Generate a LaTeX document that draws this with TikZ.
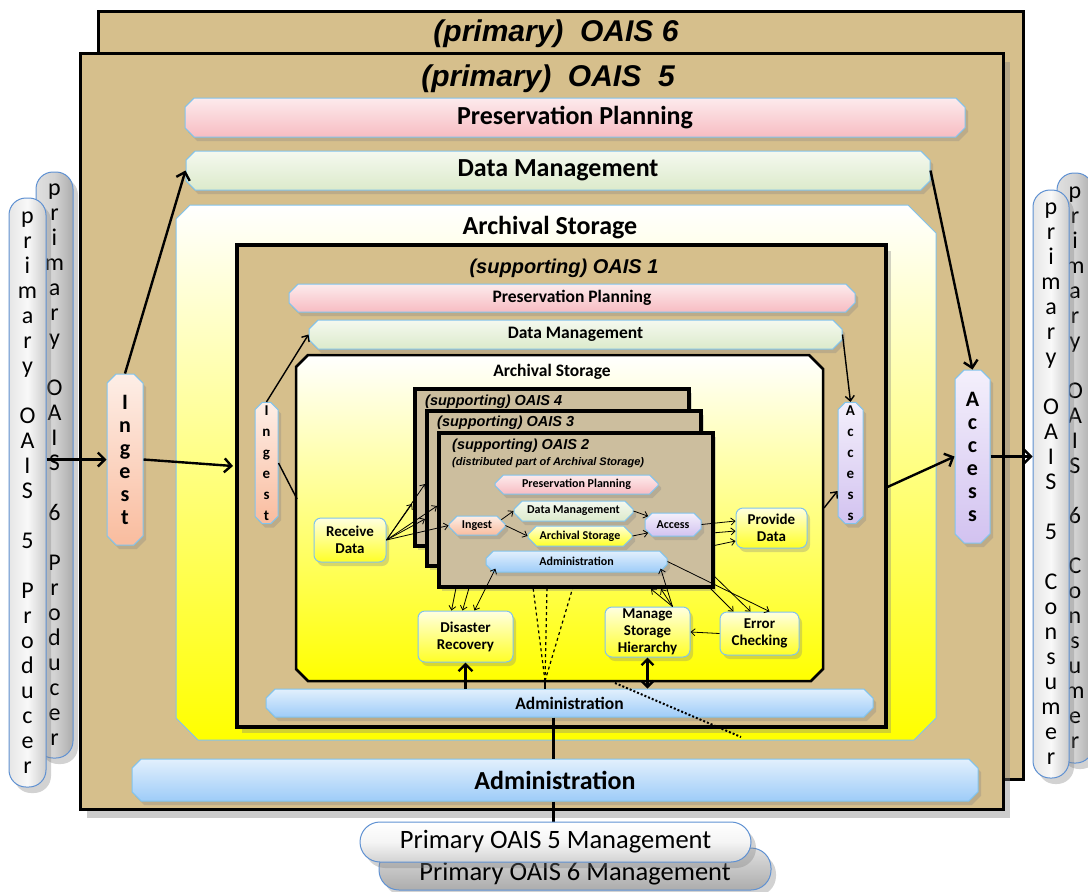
\documentclass[tikz,border=0pt]{standalone}
\usepackage{fontspec}
\setmainfont{Carlito}
\newfontfamily\arialfont{Liberation Sans}
\usetikzlibrary{shapes.misc,arrows.meta,shadows,calc}
\definecolor{tanbg}{RGB}{214,191,140}
\definecolor{tanstack}{RGB}{204,190,158}
\definecolor{ppink}{RGB}{247,188,194}
\definecolor{dmgreen}{RGB}{220,234,203}
\definecolor{admblue}{RGB}{158,204,248}
\definecolor{ingpeach}{RGB}{249,188,158}
\definecolor{acclav}{RGB}{210,194,240}
\definecolor{edgeblue}{RGB}{130,195,235}
\definecolor{yel}{RGB}{255,255,0}
\definecolor{pillblue}{RGB}{95,145,210}
\newcommand\fBig{\fontsize{26}{30}\selectfont\bfseries}
\newcommand\fMed{\fontsize{17.5}{20}\selectfont\bfseries}
\newcommand\fSml{\fontsize{12}{14}\selectfont\bfseries}
\newcommand\fBx{\fontsize{15}{17}\selectfont\bfseries}
\newcommand\fTitle[1]{\arialfont\bfseries\itshape\fontsize{#1}{#1}\selectfont}
\tikzset{
  oaisbox/.style={draw=black, line width=3pt, fill=tanbg, inner sep=0pt, anchor=north west},
  stackbox/.style={draw=black, line width=3.5pt, fill=tanstack, inner sep=0pt, anchor=north west},
  bar/.style={chamfered rectangle, chamfered rectangle xsep=6pt, draw=edgeblue, line width=1pt, inner sep=0pt, align=center},
  ppshade/.style={top color=ppink!30!white, bottom color=ppink},
  dmshade/.style={top color=dmgreen!30!white, bottom color=dmgreen},
  adshade/.style={top color=admblue!30!white, bottom color=admblue},
  ingshade/.style={top color=ingpeach!25!white, bottom color=ingpeach},
  accshade/.style={top color=acclav!25!white, bottom color=acclav},
  ysshade/.style={top color=yel!15!white, bottom color=yel!85!white},
  ybox/.style={rectangle, rounded corners=7pt, draw=edgeblue, line width=1pt, top color=yel!12!white, bottom color=yel!85!white, font=\fBx, align=center, inner sep=0pt, drop shadow={opacity=0.3, shadow xshift=3pt, shadow yshift=-4pt}},
  sh/.style={drop shadow={opacity=0.3, shadow xshift=3pt, shadow yshift=-4pt}},
  pill/.style={rectangle, rounded corners=17pt, draw=pillblue, line width=1pt, inner sep=0pt, align=center, font=\fontsize{24}{25}\selectfont, drop shadow={opacity=0.35, shadow xshift=5pt, shadow yshift=-6pt}},
  bigarr/.style={line width=2.4pt, -{Straight Barb[length=7pt,width=14pt]}},
  bigdbl/.style={line width=2.4pt, {Straight Barb[length=6pt,width=12pt]}-{Straight Barb[length=6pt,width=12pt]}},
  medarr/.style={line width=1.4pt, -{Straight Barb[length=5pt,width=9pt]}},
  thinarr/.style={line width=0.8pt, -{Straight Barb[length=4pt,width=7pt]}},
  thindbl/.style={line width=0.8pt, {Straight Barb[length=4pt,width=7pt]}-{Straight Barb[length=4pt,width=7pt]}}
}
\begin{document}
\begin{tikzpicture}[x=1pt,y=-1pt]
\useasboundingbox (0,0) rectangle (1088,892);
\fill[white] (0,0) rectangle (1088,892);

% primary OAIS 6 and 5
\node[oaisbox, minimum width=925pt, minimum height=768pt] (oais6) at (97,10) {};
\node[font=\fTitle{30}, inner sep=0pt] (t6) at (556,34) {(primary)\ \ OAIS 6};
\node[oaisbox, minimum width=923pt, minimum height=756pt, drop shadow={opacity=0.4, shadow xshift=6pt, shadow yshift=-8pt}] (oais5) at (79,52) {};
\node[font=\fTitle{30}, inner sep=0pt] (t5) at (548,79) {(primary)\ \ OAIS\ \ 5};

% primary bars
\node[bar, ppshade, sh, minimum width=780pt, minimum height=39pt, font=\fBig] (ppB) at (575,117.5) {Preservation Planning};
\node[bar, dmshade, sh, minimum width=744pt, minimum height=39pt, font=\fBig] (dmB) at (558,170.5) {Data Management};

% big archival storage
\path[draw=edgeblue, line width=1pt, top color=white, middle color=yel!22!white, bottom color=yel] (190,205) -- (908,205) -- (936,233) -- (936,718) -- (914,740) -- (198,740) -- (176,718) -- (176,219) -- cycle;
\node[inner sep=0pt, minimum width=760pt, minimum height=535pt] (asB) at (556,472.5) {};
\node[font=\fBig, inner sep=0pt] (asBt) at (550,228) {Archival Storage};

% supporting OAIS 1
\node[oaisbox, line width=3.5pt, minimum width=649pt, minimum height=482pt, drop shadow={opacity=0.35, shadow xshift=5pt, shadow yshift=-6pt}] (oais1) at (235,243) {};
\node[font=\fTitle{20}, inner sep=0pt] (t1) at (564,268) {(supporting) OAIS 1};
\node[bar, ppshade, sh, minimum width=566pt, minimum height=28pt, font=\fMed] (pp1) at (572,298) {Preservation Planning};
\node[bar, dmshade, sh, minimum width=533pt, minimum height=29pt, font=\fMed] (dm1) at (575.5,334.5) {Data Management};

% inner archival storage
\path[draw=black, line width=2.5pt, top color=white, middle color=yel!35!white, bottom color=yel] (308,355) -- (809,355) -- (823,369) -- (823,669) -- (811,681) -- (308,681) -- (296,669) -- (296,367) -- cycle;
\node[inner sep=0pt, minimum width=527pt, minimum height=326pt] (asI) at (559.5,518) {};
\node[font=\fMed, inner sep=0pt] (asIt) at (552,372) {Archival Storage};

% stacked supporting OAIS 4,3,2
\node[stackbox, minimum width=274pt, minimum height=157pt, sh] (o4) at (413,387) {};
\node[anchor=west, inner sep=0pt, font=\fTitle{14.5}] (t4) at (425,402) {(supporting) OAIS 4};
\node[stackbox, minimum width=274pt, minimum height=155pt, sh] (o3) at (425,409) {};
\node[anchor=west, inner sep=0pt, font=\fTitle{14.5}] (t3) at (437,423) {(supporting) OAIS 3};
\node[stackbox, minimum width=274pt, minimum height=154pt, sh] (o2) at (437,431) {};
\node[anchor=west, inner sep=0pt, font=\fTitle{14.5}] (t2) at (452,446) {(supporting) OAIS 2};
\node[anchor=west, inner sep=0pt, font=\fTitle{11}] (t2b) at (452,463) {(distributed part of Archival Storage)};

\node[bar, ppshade, sh, minimum width=163pt, minimum height=19pt, font=\fSml] (pp2) at (576.5,484.5) {Preservation Planning};
\node[bar, dmshade, sh, minimum width=119pt, minimum height=20pt, font=\fSml] (dm2) at (573.5,511) {Data Management};
\node[bar, ysshade, sh, minimum width=104pt, minimum height=20pt, font=\fSml] (as2) at (580,536) {Archival Storage};
\node[bar, ingshade, sh, minimum width=56pt, minimum height=19pt, font=\fSml] (ing2) at (477,525.5) {Ingest};
\node[bar, accshade, sh, minimum width=56pt, minimum height=23pt, font=\fSml] (acc2) at (673,524.5) {Access};
\node[bar, adshade, sh, minimum width=181pt, minimum height=21pt, font=\fSml] (admin2) at (576.5,561.5) {Administration};

% function boxes
\node[ybox, minimum width=72pt, minimum height=44pt] (rec) at (350,540) {Receive\\Data};
\node[ybox, minimum width=71pt, minimum height=40pt] (prov) at (771.5,528) {Provide\\Data};
\node[ybox, minimum width=95pt, minimum height=51pt] (dr) at (465.5,636.5) {Disaster\\Recovery};
\node[ybox, minimum width=85pt, minimum height=50pt] (msh) at (647.5,632) {Manage\\Storage\\Hierarchy};
\node[ybox, minimum width=79pt, minimum height=43pt] (ec) at (759.5,633.5) {Error\\Checking};

% supporting OAIS 1 ingest/access/admin
\node[bar, ingshade, sh, chamfered rectangle xsep=4pt, minimum width=23pt, minimum height=120pt, font=\fontsize{15}{21}\selectfont\bfseries] (ing1) at (266.5,463) {I\\n\\g\\e\\s\\t};
\node[bar, accshade, sh, chamfered rectangle xsep=4pt, minimum width=25pt, minimum height=120pt, font=\fontsize{15}{21}\selectfont\bfseries] (acc1) at (850.5,463) {A\\c\\c\\e\\s\\s};
\node[bar, adshade, sh, minimum width=607pt, minimum height=28pt, font=\fMed] (admin1) at (569.5,703) {Administration};

% primary ingest/access/admin
\node[bar, ingshade, sh, minimum width=36pt, minimum height=171pt, font=\fontsize{22}{23}\selectfont\bfseries] (ingB) at (125,459.5) {I\\n\\g\\e\\s\\t};
\node[bar, accshade, sh, minimum width=35pt, minimum height=173pt, font=\fontsize{22}{23}\selectfont\bfseries] (accB) at (972.5,456.5) {A\\c\\c\\e\\s\\s};
\node[bar, adshade, sh, minimum width=846pt, minimum height=42pt, font=\fBig] (adminP) at (555,780) {Administration};

% producers and consumers
\node[pill, left color=gray!25, right color=gray!65, middle color=gray!35, minimum width=37pt, minimum height=586pt] (prod6) at (54.5,465) {p\\r\\i\\m\\a\\r\\y\\[25pt]O\\A\\I\\S\\[25pt]6\\[25pt]P\\r\\o\\d\\u\\c\\e\\r};
\node[pill, left color=gray!20, right color=gray!40, middle color=gray!5, minimum width=37pt, minimum height=589pt] (prod5) at (27.5,492.5) {p\\r\\i\\m\\a\\r\\y\\[25pt]O\\A\\I\\S\\[25pt]5\\[25pt]P\\r\\o\\d\\u\\c\\e\\r};
\node[pill, left color=gray!25, right color=gray!65, middle color=gray!35, minimum width=36pt, minimum height=590pt] (cons6) at (1075,468) {p\\r\\i\\m\\a\\r\\y\\[25pt]O\\A\\I\\S\\[25pt]6\\[25pt]C\\o\\n\\s\\u\\m\\e\\r};
\node[pill, left color=gray!20, right color=gray!40, middle color=gray!5, minimum width=36pt, minimum height=588pt] (cons5) at (1051,484) {p\\r\\i\\m\\a\\r\\y\\[25pt]O\\A\\I\\S\\[25pt]5\\[25pt]C\\o\\n\\s\\u\\m\\e\\r};

% ---- connectors ----
\draw[bigarr] (ingB.west -| prod5.east) -- (ingB.west);
\coordinate (o1in) at (233,466);
\draw[bigarr] (ingB.east) -- (o1in);
\draw[bigarr] (ingB.north) -- (dmB.west);
\draw[bigarr] (dmB.east) -- (accB.north);
\draw[bigarr] (oais1.east |- 0,487) -- (accB.west);
\draw[bigarr] (accB.east) -- (accB.east -| cons5.west);

\draw[medarr] (ing1.north) -- (dm1.west);
\coordinate (asIl) at (297,499);
\draw[line width=1.4pt] (ing1.east) -- (asIl);
\draw[medarr] (dm1.east) -- (acc1.north);
\coordinate (asIr) at (824,508);
\draw[medarr] (asIr) -- (acc1.west |- 0,491);

% receive data fan
\coordinate (r1) at (412,504);
\coordinate (r2) at (425,484);
\coordinate (r3) at (425,519);
\coordinate (r4) at (437,506);
\foreach \c in {r1,r2,r3,r4} \draw[thinarr] (rec.east) -- (\c);
\draw[thinarr] (rec.east) -- (ing2.west);

% inside OAIS 2
\draw[thinarr] (ing2.north east) -- (dm2.west);
\draw[thinarr] (ing2.east) -- (as2.west);
\draw[thinarr] (dm2.east) -- (acc2.north west);
\draw[thinarr] (as2.east) -- (acc2.south west);

% to provide data
\coordinate (p2s) at (712,533);
\coordinate (p3s) at (712,546);
\draw[thinarr] (acc2.east) -- (prov.west |- 0,521);
\draw[thinarr] (p2s) -- (prov.west |- 0,531);
\draw[thinarr] (p3s) -- (prov.west |- 0,541);

% disaster recovery
\coordinate (d1) at (456,588);
\coordinate (d2) at (469,588);
\draw[thinarr] (d1) -- ([xshift=-14pt]dr.north);
\draw[thinarr] (d2) -- ([xshift=-3pt]dr.north);
\draw[thindbl] ([xshift=9pt]dr.north) -- ([xshift=6pt]admin2.south west);

% manage storage hierarchy
\coordinate (m1) at (651,589);
\coordinate (m2) at (661,589);
\draw[thinarr] ([xshift=25pt]msh.north) -- (m1);
\draw[thinarr] ([xshift=25pt]msh.north) -- (m2);
\draw[thinarr] ([xshift=25pt]msh.north) -- ([xshift=-3pt]admin2.south east);

% error checking
\coordinate (e2s) at (712,574);
\coordinate (e3s) at (710,588);
\draw[thinarr] (admin2.east) -- ([xshift=10pt]ec.north);
\draw[thinarr] (e2s) -- ([xshift=-9pt]ec.north);
\draw[thinarr] (e3s) -- ([xshift=-26pt]ec.north);
\draw[thinarr] (ec.west) -- (msh.east);

% administration links
\draw[bigarr] (dr.south |- admin1.north) -- (dr.south);
\draw[bigdbl] (msh.south |- admin1.north) -- (msh.south);
\coordinate (dbase) at (545,681);
\draw[line width=2pt] (dbase |- admin1.north) -- (dbase);
\coordinate (dd1) at (533,587);
\coordinate (dd2) at (547,587);
\coordinate (dd3) at (573,587);
\foreach \c in {dd1,dd2,dd3} \draw[dashed, line width=1.2pt] (dbase) -- (\c);
\coordinate (dot1) at (615,683);
\coordinate (dot2) at (741,737);
\draw[dotted, line width=2pt] (dot1) -- (dot2);

\draw[line width=3pt] (admin1.south -| 553,0) -- (adminP.north -| 553,0);

% management
\node[pill, rounded corners=20pt, top color=gray!25, bottom color=gray!65, minimum width=392pt, minimum height=42pt, text height=22pt, text depth=0pt, font=\fontsize{26.5}{30}\selectfont] (mgmt6) at (575,869) {Primary OAIS 6 Management};
\draw[line width=3pt] (adminP.south -| 553,0) -- (553,822);
\node[pill, rounded corners=20pt, top color=white, bottom color=gray!35, middle color=gray!8, minimum width=391pt, minimum height=40pt, font=\fontsize{26.5}{30}\selectfont] (mgmt5) at (555.5,842) {Primary OAIS 5 Management};
\end{tikzpicture}
\end{document}
